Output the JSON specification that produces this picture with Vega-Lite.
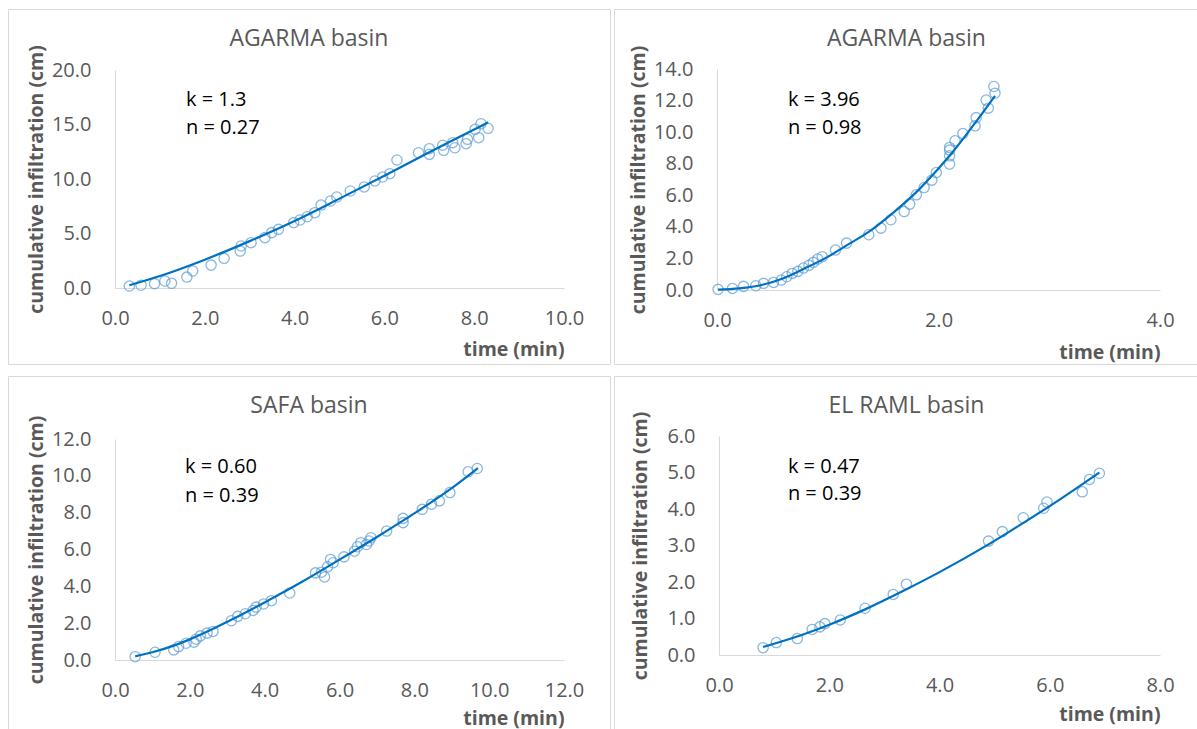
{
  "$schema": "https://vega.github.io/schema/vega-lite/v6.json",
  "padding": {"left": 7, "top": 8, "right": 0, "bottom": 0},
  "background": "white",
  "spacing": 10,
  "config": {
    "font": "Open Sans",
    "view": {"stroke": "#d9d9d9", "strokeWidth": 1},
    "axis": {"domainColor": "#d9d9d9", "domainWidth": 1, "ticks": false, "tickSize": 0, "grid": false, "labelFlush": false, "labelOverlap": false, "labelColor": "#595959", "labelFontSize": 20, "labelFont": "Open Sans", "titleColor": "#595959", "titleFontSize": 19.5, "titleFontWeight": "bold", "titleFont": "Open Sans", "format": ".1f"},
    "axisX": {"labelPadding": 30, "labelBaseline": "middle", "titleAnchor": "end", "titleAlign": "right", "titleBaseline": "middle", "titleY": 61},
    "axisY": {"labelPadding": 24, "titleX": -73, "titleBaseline": "alphabetic"},
    "title": {"anchor": "middle", "baseline": "middle", "fontSize": 23, "fontWeight": "normal", "color": "#595959", "font": "Open Sans"}
  },
  "datasets": {
    "p1pts": [
      {"t":0.32,"I":0.18},{"t":0.58,"I":0.25},{"t":0.88,"I":0.4},{"t":1.11,"I":0.64},{"t":1.26,"I":0.43},{"t":1.60,"I":1.0},{"t":1.73,"I":1.56},{"t":2.14,"I":2.1},{"t":2.43,"I":2.72},{"t":2.79,"I":3.39},{"t":2.81,"I":3.85},{"t":3.03,"I":4.16},{"t":3.34,"I":4.62},{"t":3.49,"I":5.08},{"t":3.64,"I":5.38},{"t":3.98,"I":6.0},{"t":4.12,"I":6.24},{"t":4.28,"I":6.54},{"t":4.45,"I":6.91},{"t":4.59,"I":7.61},{"t":4.80,"I":7.98},{"t":4.94,"I":8.35},{"t":5.24,"I":8.9},{"t":5.55,"I":9.27},{"t":5.79,"I":9.82},{"t":5.96,"I":10.18},{"t":6.12,"I":10.49},{"t":6.28,"I":11.74},{"t":6.76,"I":12.41},{"t":7.0,"I":12.78},{"t":7.0,"I":12.26},{"t":7.30,"I":13.1},{"t":7.32,"I":12.63},{"t":7.52,"I":13.33},{"t":7.57,"I":12.87},{"t":7.82,"I":13.24},{"t":7.85,"I":13.64},{"t":8.02,"I":14.56},{"t":8.10,"I":13.79},{"t":8.15,"I":15.07},{"t":8.31,"I":14.65}
    ],
    "p1fit": [
      {"t":0.32,"I":0.25},{"t":1,"I":1.1},{"t":2,"I":2.6},{"t":3,"I":4.3},{"t":4,"I":6.15},{"t":5,"I":8.2},{"t":6,"I":10.3},{"t":7,"I":12.45},{"t":8,"I":14.55},{"t":8.31,"I":15.2}
    ],
    "p2pts": [
      {"t":0.01,"I":0.04},{"t":0.14,"I":0.1},{"t":0.24,"I":0.23},{"t":0.35,"I":0.27},{"t":0.42,"I":0.42},{"t":0.51,"I":0.48},{"t":0.58,"I":0.63},{"t":0.63,"I":0.84},{"t":0.68,"I":1.05},{"t":0.73,"I":1.18},{"t":0.78,"I":1.39},{"t":0.83,"I":1.56},{"t":0.87,"I":1.75},{"t":0.91,"I":1.96},{"t":0.95,"I":2.11},{"t":1.07,"I":2.53},{"t":1.17,"I":2.97},{"t":1.37,"I":3.5},{"t":1.48,"I":3.92},{"t":1.57,"I":4.45},{"t":1.69,"I":4.97},{"t":1.74,"I":5.44},{"t":1.80,"I":6.03},{"t":1.87,"I":6.49},{"t":1.94,"I":6.96},{"t":1.98,"I":7.44},{"t":2.10,"I":7.97},{"t":2.10,"I":8.5},{"t":2.10,"I":8.86},{"t":2.10,"I":9.03},{"t":2.15,"I":9.45},{"t":2.22,"I":9.91},{"t":2.33,"I":10.4},{"t":2.34,"I":10.92},{"t":2.45,"I":11.52},{"t":2.43,"I":12.03},{"t":2.51,"I":12.47},{"t":2.50,"I":12.89}
    ],
    "p2fit": [
      {"t":0.01,"I":0.03},{"t":0.2,"I":0.1},{"t":0.42,"I":0.35},{"t":0.6,"I":0.75},{"t":0.78,"I":1.33},{"t":1.0,"I":2.1},{"t":1.2,"I":2.95},{"t":1.37,"I":3.68},{"t":1.6,"I":4.95},{"t":1.8,"I":6.2},{"t":2.0,"I":7.7},{"t":2.1,"I":8.5},{"t":2.3,"I":10.3},{"t":2.51,"I":12.3}
    ],
    "p3pts": [
      {"t":0.54,"I":0.18},{"t":1.07,"I":0.42},{"t":1.57,"I":0.55},{"t":1.70,"I":0.73},{"t":1.90,"I":0.91},{"t":2.11,"I":0.97},{"t":2.17,"I":1.13},{"t":2.28,"I":1.31},{"t":2.46,"I":1.46},{"t":2.62,"I":1.55},{"t":3.11,"I":2.13},{"t":3.28,"I":2.37},{"t":3.48,"I":2.51},{"t":3.69,"I":2.69},{"t":3.77,"I":2.87},{"t":3.97,"I":3.04},{"t":4.18,"I":3.22},{"t":4.67,"I":3.64},{"t":5.36,"I":4.73},{"t":5.52,"I":4.77},{"t":5.60,"I":4.51},{"t":5.68,"I":5.06},{"t":5.76,"I":5.46},{"t":5.83,"I":5.28},{"t":6.12,"I":5.6},{"t":6.40,"I":5.91},{"t":6.48,"I":6.15},{"t":6.57,"I":6.37},{"t":6.72,"I":6.27},{"t":6.79,"I":6.46},{"t":6.84,"I":6.64},{"t":7.26,"I":7.0},{"t":7.70,"I":7.46},{"t":7.70,"I":7.69},{"t":8.21,"I":8.18},{"t":8.46,"I":8.46},{"t":8.67,"I":8.64},{"t":8.95,"I":9.09},{"t":9.44,"I":10.22},{"t":9.68,"I":10.4}
    ],
    "p3fit": [
      {"t":0.54,"I":0.2},{"t":1.0,"I":0.42},{"t":1.57,"I":0.78},{"t":2.0,"I":1.12},{"t":2.5,"I":1.58},{"t":3.11,"I":2.18},{"t":4.0,"I":3.13},{"t":5.0,"I":4.25},{"t":6.0,"I":5.45},{"t":7.0,"I":6.68},{"t":8.0,"I":7.96},{"t":9.0,"I":9.33},{"t":9.7,"I":10.42}
    ],
    "p4pts": [
      {"t":0.80,"I":0.20},{"t":1.04,"I":0.34},{"t":1.42,"I":0.45},{"t":1.69,"I":0.70},{"t":1.83,"I":0.77},{"t":1.92,"I":0.86},{"t":2.20,"I":0.96},{"t":2.65,"I":1.28},{"t":3.16,"I":1.66},{"t":3.40,"I":1.94},{"t":4.89,"I":3.12},{"t":5.14,"I":3.38},{"t":5.52,"I":3.76},{"t":5.89,"I":4.02},{"t":5.95,"I":4.19},{"t":6.59,"I":4.47},{"t":6.72,"I":4.81},{"t":6.90,"I":4.98}
    ],
    "p4fit": [
      {"t":0.8,"I":0.22},{"t":1.5,"I":0.55},{"t":2.0,"I":0.83},{"t":2.65,"I":1.25},{"t":3.4,"I":1.8},{"t":4.0,"I":2.27},{"t":4.89,"I":3.03},{"t":5.5,"I":3.6},{"t":6.0,"I":4.08},{"t":6.9,"I":5.0}
    ],
    "ann": [
      {"panel":"p1","k":"k = 1.3","n":"n = 0.27"},
      {"panel":"p2","k":"k = 3.96","n":"n = 0.98"},
      {"panel":"p3","k":"k = 0.60","n":"n = 0.39"},
      {"panel":"p4","k":"k = 0.47","n":"n = 0.39"}
    ]
  },
  "vconcat": [
    {
      "hconcat": [
        {
          "width": 602, "height": 355,
          "title": {"text": "AGARMA basin", "offset": -42},
          "layer": [
            {"data": {"name": "p1pts"},
             "mark": {"type": "point", "shape": "circle", "filled": false, "size": 105, "strokeWidth": 1.3, "color": "#5b9bd5"},
             "encoding": {
               "x": {"field": "t", "type": "quantitative", "scale": {"domain": [0, 10], "range": [107, 556], "nice": false, "zero": false}, "axis": {"values": [0, 2, 4, 6, 8, 10], "offset": -76, "title": "time (min)"}},
               "y": {"field": "I", "type": "quantitative", "scale": {"domain": [0, 20], "range": [279, 61], "nice": false}, "axis": {"values": [0, 5, 10, 15, 20], "offset": -107, "title": "cumulative infiltration (cm)"}}
             }},
            {"data": {"name": "p1fit"},
             "mark": {"type": "line", "interpolate": "monotone", "color": "#0070c0", "strokeWidth": 2.2},
             "encoding": {"x": {"field": "t", "type": "quantitative"}, "y": {"field": "I", "type": "quantitative"}}},
            {"data": {"name": "ann"}, "transform": [{"filter": "datum.panel === 'p1'"}],
             "mark": {"type": "text", "align": "left", "baseline": "middle", "fontSize": 20, "color": "#000000"},
             "encoding": {"x": {"datum": 1.58}, "y": {"datum": 17.25}, "text": {"field": "k"}}},
            {"data": {"name": "ann"}, "transform": [{"filter": "datum.panel === 'p1'"}],
             "mark": {"type": "text", "align": "left", "baseline": "middle", "fontSize": 20, "color": "#000000"},
             "encoding": {"x": {"datum": 1.58}, "y": {"datum": 14.7}, "text": {"field": "n"}}}
          ]
        },
        {
          "width": 585, "height": 355,
          "title": {"text": "AGARMA basin", "offset": -42},
          "layer": [
            {"data": {"name": "p2pts"},
             "mark": {"type": "point", "shape": "circle", "filled": false, "size": 105, "strokeWidth": 1.3, "color": "#5b9bd5"},
             "encoding": {
               "x": {"field": "t", "type": "quantitative", "scale": {"domain": [0, 4], "range": [103, 546], "nice": false, "zero": false}, "axis": {"values": [0, 2, 4], "offset": -74, "title": "time (min)", "titleY": 62}},
               "y": {"field": "I", "type": "quantitative", "scale": {"domain": [0, 14], "range": [281, 60], "nice": false}, "axis": {"values": [0, 2, 4, 6, 8, 10, 12, 14], "offset": -103, "title": "cumulative infiltration (cm)"}}
             }},
            {"data": {"name": "p2fit"},
             "mark": {"type": "line", "interpolate": "monotone", "color": "#0070c0", "strokeWidth": 2.2},
             "encoding": {"x": {"field": "t", "type": "quantitative"}, "y": {"field": "I", "type": "quantitative"}}},
            {"data": {"name": "ann"}, "transform": [{"filter": "datum.panel === 'p2'"}],
             "mark": {"type": "text", "align": "left", "baseline": "middle", "fontSize": 20, "color": "#000000"},
             "encoding": {"x": {"datum": 0.64}, "y": {"datum": 12.04}, "text": {"field": "k"}}},
            {"data": {"name": "ann"}, "transform": [{"filter": "datum.panel === 'p2'"}],
             "mark": {"type": "text", "align": "left", "baseline": "middle", "fontSize": 20, "color": "#000000"},
             "encoding": {"x": {"datum": 0.64}, "y": {"datum": 10.27}, "text": {"field": "n"}}}
          ]
        }
      ],
      "spacing": 2
    },
    {
      "hconcat": [
        {
          "width": 602, "height": 355,
          "title": {"text": "SAFA basin", "offset": -42},
          "layer": [
            {"data": {"name": "p3pts"},
             "mark": {"type": "point", "shape": "circle", "filled": false, "size": 105, "strokeWidth": 1.3, "color": "#5b9bd5"},
             "encoding": {
               "x": {"field": "t", "type": "quantitative", "scale": {"domain": [0, 12], "range": [107, 556], "nice": false, "zero": false}, "axis": {"values": [0, 2, 4, 6, 8, 10, 12], "offset": -71, "title": "time (min)", "titleY": 58}},
               "y": {"field": "I", "type": "quantitative", "scale": {"domain": [0, 12], "range": [284, 63], "nice": false}, "axis": {"values": [0, 2, 4, 6, 8, 10, 12], "offset": -107, "title": "cumulative infiltration (cm)"}}
             }},
            {"data": {"name": "p3fit"},
             "mark": {"type": "line", "interpolate": "monotone", "color": "#0070c0", "strokeWidth": 2.2},
             "encoding": {"x": {"field": "t", "type": "quantitative"}, "y": {"field": "I", "type": "quantitative"}}},
            {"data": {"name": "ann"}, "transform": [{"filter": "datum.panel === 'p3'"}],
             "mark": {"type": "text", "align": "left", "baseline": "middle", "fontSize": 20, "color": "#000000"},
             "encoding": {"x": {"datum": 1.87}, "y": {"datum": 10.46}, "text": {"field": "k"}}},
            {"data": {"name": "ann"}, "transform": [{"filter": "datum.panel === 'p3'"}],
             "mark": {"type": "text", "align": "left", "baseline": "middle", "fontSize": 20, "color": "#000000"},
             "encoding": {"x": {"datum": 1.87}, "y": {"datum": 8.88}, "text": {"field": "n"}}}
          ]
        },
        {
          "width": 585, "height": 355,
          "title": {"text": "EL RAML basin", "offset": -42},
          "layer": [
            {"data": {"name": "p4pts"},
             "mark": {"type": "point", "shape": "circle", "filled": false, "size": 105, "strokeWidth": 1.3, "color": "#5b9bd5"},
             "encoding": {
               "x": {"field": "t", "type": "quantitative", "scale": {"domain": [0, 8], "range": [105, 546], "nice": false, "zero": false}, "axis": {"values": [0, 2, 4, 6, 8], "offset": -76, "title": "time (min)", "titleY": 59}},
               "y": {"field": "I", "type": "quantitative", "scale": {"domain": [0, 6], "range": [279, 60], "nice": false}, "axis": {"values": [0, 1, 2, 3, 4, 5, 6], "offset": -105, "title": "cumulative infiltration (cm)"}}
             }},
            {"data": {"name": "p4fit"},
             "mark": {"type": "line", "interpolate": "monotone", "color": "#0070c0", "strokeWidth": 2.2},
             "encoding": {"x": {"field": "t", "type": "quantitative"}, "y": {"field": "I", "type": "quantitative"}}},
            {"data": {"name": "ann"}, "transform": [{"filter": "datum.panel === 'p4'"}],
             "mark": {"type": "text", "align": "left", "baseline": "middle", "fontSize": 20, "color": "#000000"},
             "encoding": {"x": {"datum": 1.25}, "y": {"datum": 5.16}, "text": {"field": "k"}}},
            {"data": {"name": "ann"}, "transform": [{"filter": "datum.panel === 'p4'"}],
             "mark": {"type": "text", "align": "left", "baseline": "middle", "fontSize": 20, "color": "#000000"},
             "encoding": {"x": {"datum": 1.25}, "y": {"datum": 4.40}, "text": {"field": "n"}}}
          ]
        }
      ],
      "spacing": 2
    }
  ]
}
